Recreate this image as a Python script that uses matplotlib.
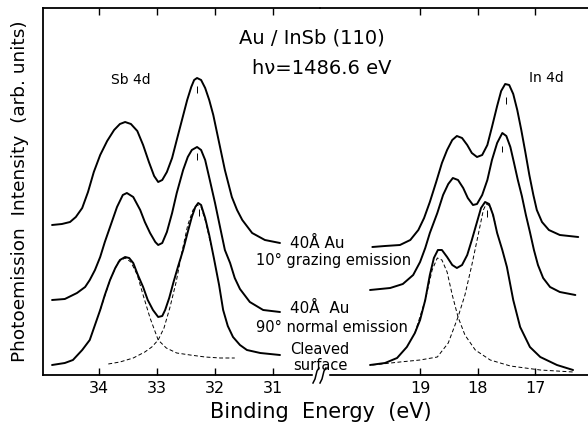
import numpy as np
import matplotlib
matplotlib.use('Agg')
import matplotlib.pyplot as plt
from matplotlib.lines import Line2D

# ---- Sb 4d region (binding energy in eV, intensity in arb. units) ----
sb_grazing_E = [34.81, 34.64, 34.50, 34.40, 34.29, 34.19, 34.09, 33.98, 33.86, 33.74, 33.64, 33.55,
                33.45, 33.34, 33.24, 33.14, 33.05, 32.98, 32.91, 32.83, 32.74, 32.66, 32.57, 32.48,
                32.41, 32.36, 32.31, 32.24, 32.17, 32.10, 32.03, 31.95, 31.83, 31.71, 31.62, 31.53,
                31.36, 31.14, 30.88]
sb_grazing_I = [15.0, 15.1, 15.3, 15.8, 16.7, 18.3, 20.3, 22.0, 23.4, 24.5, 25.1, 25.3,
                25.1, 24.4, 23.0, 21.3, 19.9, 19.3, 19.5, 20.3, 21.7, 23.5, 25.5, 27.5,
                28.8, 29.5, 29.7, 29.5, 28.7, 27.5, 26.0, 23.8, 20.5, 17.8, 16.5, 15.5,
                14.2, 13.5, 13.2]

sb_normal_E = [34.81, 34.59, 34.38, 34.24, 34.16, 34.07, 33.98, 33.90, 33.81, 33.69, 33.59, 33.52,
               33.41, 33.29, 33.21, 33.12, 33.03, 32.98, 32.91, 32.83, 32.74, 32.66, 32.55, 32.47,
               32.40, 32.31, 32.24, 32.17, 32.09, 32.00, 31.91, 31.83, 31.74, 31.66, 31.57, 31.40,
               31.17, 30.88]
sb_normal_I = [7.5, 7.6, 8.2, 8.8, 9.5, 10.5, 11.8, 13.3, 14.8, 16.8, 18.0, 18.2,
               17.8, 16.5, 15.3, 14.2, 13.3, 13.0, 13.2, 14.3, 16.2, 18.2, 20.5, 21.8,
               22.5, 22.8, 22.5, 21.5, 19.5, 17.2, 14.7, 12.5, 11.2, 9.7, 8.6, 7.3,
               6.5, 6.3]

sb_cleaved_E = [34.81, 34.59, 34.45, 34.29, 34.16, 34.07, 33.98, 33.90, 33.81, 33.72, 33.64, 33.55,
                33.48, 33.41, 33.33, 33.24, 33.16, 33.07, 32.98, 32.91, 32.86, 32.79, 32.72, 32.64,
                32.55, 32.47, 32.40, 32.34, 32.29, 32.24, 32.17, 32.10, 32.02, 31.93, 31.86, 31.78,
                31.69, 31.57, 31.45, 31.22, 30.88]
sb_cleaved_I = [1.0, 1.2, 1.5, 2.5, 3.5, 5.0, 6.5, 8.0, 9.5, 10.7, 11.5, 11.8,
                11.7, 11.2, 10.0, 8.8, 7.5, 6.5, 5.8, 5.9, 6.5, 7.7, 9.2, 10.8,
                12.5, 14.3, 15.8, 16.8, 17.2, 17.0, 15.7, 14.0, 11.7, 9.0, 6.5, 4.9,
                3.8, 3.0, 2.5, 2.2, 2.0]

sb_fit32_E = [33.98, 33.81, 33.67, 33.55, 33.45, 33.34, 33.24, 33.12, 32.98, 32.84, 32.66, 32.43,
              32.17, 31.91, 31.66]
sb_fit32_I = [6.5, 9.5, 11.3, 11.7, 11.3, 10.0, 8.0, 5.7, 3.5, 2.7, 2.2, 2.0,
              1.8, 1.7, 1.7]
sb_fit52_E = [33.84, 33.64, 33.41, 33.21, 33.09, 32.98, 32.88, 32.78, 32.67, 32.57, 32.47, 32.38,
              32.31, 32.24, 32.16, 32.07]
sb_fit52_I = [1.1, 1.3, 1.7, 2.3, 2.8, 3.5, 4.7, 6.7, 9.3, 12.3, 15.0, 16.5,
              17.0, 16.8, 15.3, 13.0]

# ---- In 4d region ----
in_grazing_E = [19.83, 19.61, 19.35, 19.17, 19.03, 18.93, 18.83, 18.72, 18.62, 18.53, 18.44, 18.36,
                18.27, 18.18, 18.10, 18.01, 17.92, 17.83, 17.75, 17.66, 17.59, 17.52, 17.45, 17.38,
                17.31, 17.24, 17.17, 17.10, 17.03, 16.97, 16.88, 16.76, 16.57, 16.25]
in_grazing_I = [12.8, 12.9, 13.0, 13.5, 14.5, 15.7, 17.3, 19.3, 21.2, 22.5, 23.5, 23.9,
                23.7, 23.0, 22.2, 21.8, 22.0, 23.0, 24.8, 26.9, 28.4, 29.1, 29.0, 28.1,
                26.5, 24.5, 22.3, 20.0, 18.0, 16.5, 15.3, 14.5, 14.0, 13.8]

in_normal_E = [19.87, 19.52, 19.30, 19.12, 19.00, 18.91, 18.83, 18.70, 18.60, 18.51, 18.43, 18.34,
               18.25, 18.17, 18.08, 18.01, 17.92, 17.83, 17.75, 17.66, 17.57, 17.50, 17.43, 17.37,
               17.30, 17.23, 17.16, 17.09, 17.02, 16.95, 16.86, 16.74, 16.57, 16.30]
in_normal_I = [8.5, 8.7, 9.1, 10.0, 11.3, 12.7, 14.2, 16.2, 18.0, 19.1, 19.7, 19.5,
               18.7, 17.7, 17.0, 17.1, 18.0, 19.5, 21.5, 23.2, 24.2, 23.9, 22.8, 21.3,
               19.5, 17.9, 16.0, 14.3, 12.5, 11.0, 9.7, 8.8, 8.3, 8.0]

in_cleaved_E = [19.87, 19.61, 19.40, 19.23, 19.09, 19.00, 18.91, 18.83, 18.76, 18.69, 18.62, 18.53,
                18.44, 18.36, 18.27, 18.18, 18.10, 18.01, 17.94, 17.87, 17.80, 17.73, 17.66, 17.57,
                17.49, 17.38, 17.26, 17.09, 16.91, 16.62, 16.34]
in_cleaved_I = [1.0, 1.2, 1.7, 2.8, 4.2, 5.5, 7.5, 10.0, 11.7, 12.5, 12.5, 11.8,
                11.0, 10.7, 11.0, 12.0, 13.5, 15.3, 16.7, 17.3, 17.1, 16.0, 14.2, 12.5,
                10.8, 7.5, 4.8, 2.8, 1.8, 1.0, 0.5]

in_fit32_E = [19.09, 18.91, 18.79, 18.70, 18.62, 18.53, 18.44, 18.34, 18.22, 18.04, 17.78, 17.43,
              16.91, 16.34]
in_fit32_I = [4.2, 7.5, 10.5, 11.7, 11.5, 10.3, 8.0, 5.8, 4.0, 2.5, 1.5, 0.9,
              0.5, 0.3]
in_fit52_E = [19.83, 19.35, 19.00, 18.70, 18.51, 18.34, 18.22, 18.10, 17.99, 17.90, 17.85, 17.78,
              17.70]
in_fit52_I = [1.0, 1.3, 1.5, 1.8, 3.2, 5.8, 8.0, 11.0, 14.0, 16.5, 17.1, 16.9,
              15.3]

# bulk peak markers: energy, lower and upper intensity of the small tick
sb_mark_E = [32.31, 32.31, 32.28]
sb_mark_lo = [28.2, 21.5, 15.9]
sb_mark_hi = [28.9, 22.2, 16.6]
in_mark_E = [17.50, 17.57, 17.83]
in_mark_lo = [27.1, 22.3, 15.8]
in_mark_hi = [27.8, 22.9, 16.5]

sb_ticks = [34, 33, 32, 31]
in_ticks = [19, 18, 17]

plt.rcParams['font.family'] = ['DejaVu Sans']
W, H = 588, 425
fig = plt.figure(figsize=(W / 100, H / 100), dpi=100)

x0, xb, x1 = 43, 320, 588
yb, yt = 375, 8
ax1 = fig.add_axes([x0 / W, (H - yb) / H, (xb - x0) / W, (yb - yt) / H])
ax2 = fig.add_axes([xb / W, (H - yb) / H, (x1 - xb) / W, (yb - yt) / H])

lw = 1.4
for ax, curves, fits, marks, ticks, xlim in [
    (ax1, [(sb_grazing_E, sb_grazing_I), (sb_normal_E, sb_normal_I), (sb_cleaved_E, sb_cleaved_I)],
     [(sb_fit32_E, sb_fit32_I), (sb_fit52_E, sb_fit52_I)],
     (sb_mark_E, sb_mark_lo, sb_mark_hi), sb_ticks, (34.966, 30.19)),
    (ax2, [(in_grazing_E, in_grazing_I), (in_normal_E, in_normal_I), (in_cleaved_E, in_cleaved_I)],
     [(in_fit32_E, in_fit32_I), (in_fit52_E, in_fit52_I)],
     (in_mark_E, in_mark_lo, in_mark_hi), in_ticks, (20.74, 16.08)),
]:
    for e, i in curves:
        ax.plot(e, i, color='black', lw=lw, solid_capstyle='round', solid_joinstyle='round')
    for e, i in fits:
        ax.plot(e, i, color='black', lw=0.7, linestyle=(0, (4, 2.5)))
    ax.vlines(marks[0], marks[1], marks[2], color='black', lw=0.7)
    ax.set_xlim(*xlim)
    ax.set_ylim(0, 36.7)
    ax.set_xticks(ticks)
    ax.set_xticklabels([str(t) for t in ticks], fontsize=11.5)
    ax.set_yticks([])
    ax.tick_params(axis='x', direction='in', length=5, width=1.0, top=True, pad=4)
    for s in ax.spines.values():
        s.set_linewidth(1.3)
    ax.spines['right'].set_visible(False)
    ax.set_facecolor('none')

ax2.spines['left'].set_visible(False)


def px(x, y):
    return x / W, 1 - y / H


# axis break mark on the bottom axis
gap = Line2D([314 / W, 327 / W], [1 - yb / H] * 2, color='white', lw=2.5, transform=fig.transFigure)
fig.add_artist(gap)
for xo in (313, 320):
    xs = np.array([0, 2, 4, 6]) + xo
    ys = [383, 379, 371, 368]
    fig.add_artist(Line2D(xs / W, 1 - np.array(ys) / H, color='black', lw=1.1,
                          transform=fig.transFigure))

fig.text(*px(312, 38), 'Au / InSb (110)', fontsize=14, ha='center', va='center')
fig.text(*px(322, 68), 'h\u03bd=1486.6 eV', fontsize=14, ha='center', va='center')
fig.text(*px(131, 80), 'Sb 4d', fontsize=10, ha='center', va='center')
fig.text(*px(546, 78), 'In 4d', fontsize=10, ha='center', va='center')
fig.text(*px(290, 243), '40\u00c5 Au', fontsize=11, ha='left', va='center')
fig.text(*px(256, 260), '10\u00b0 grazing emission', fontsize=10.5, ha='left', va='center')
fig.text(*px(290, 308), '40\u00c5  Au', fontsize=11, ha='left', va='center')
fig.text(*px(256, 327), '90\u00b0 normal emission', fontsize=10.5, ha='left', va='center')
fig.text(*px(320, 350), 'Cleaved', fontsize=10.5, ha='center', va='center')
fig.text(*px(320, 365), 'surface', fontsize=10.5, ha='center', va='center')

fig.text(*px(20, 191), 'Photoemission  Intensity  (arb. units)', fontsize=13.3,
         rotation=90, ha='center', va='center')
fig.text(*px(321, 412), 'Binding  Energy  (eV)', fontsize=15, ha='center', va='center')

fig.savefig('out.png', dpi=100)
